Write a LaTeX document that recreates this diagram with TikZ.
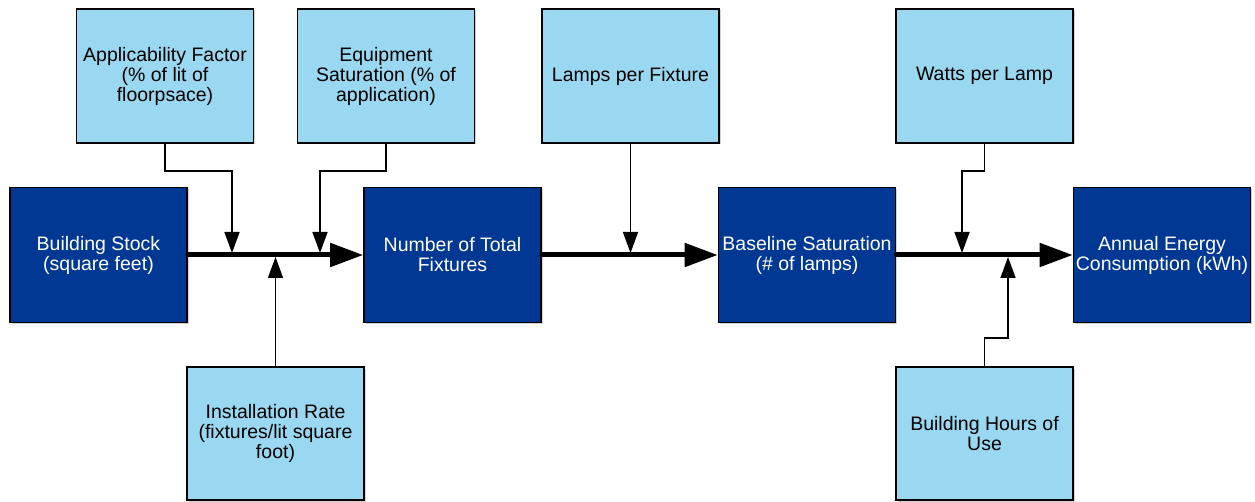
\documentclass[tikz,border=0pt]{standalone}
\usepackage{fontspec}
\setmainfont{Liberation Sans}
\usetikzlibrary{arrows.meta,shadows}
\definecolor{darkbox}{RGB}{0,56,147}
\definecolor{lightbox}{RGB}{153,216,240}
\tikzset{
  box/.style={draw=black, line width=1.6pt, rectangle, align=center,
    font=\fontsize{19.5}{20}\selectfont, inner sep=0pt,
    drop shadow={shadow xshift=1.5pt, shadow yshift=-1.5pt, fill=black!35, opacity=0.5}},
  darknode/.style={box, fill=darkbox, text=white, minimum width=177pt, minimum height=135pt},
  lightnode/.style={box, fill=lightbox, text=black, minimum width=177pt, minimum height=134pt},
  mainflow/.style={line width=5pt, line cap=round, -{Triangle[length=33pt,width=23pt]}},
  feed/.style={line width=1.5pt, -{Triangle[length=21pt,width=15pt]}}
}
\begin{document}
\begin{tikzpicture}[x=1pt,y=-1pt]
\useasboundingbox (0,0) rectangle (1255,502);
% dark boxes
\node[darknode] (BS)   at (98.5,255)  {Building Stock\\(square feet)};
\node[darknode] (NTF)  at (452.5,255) {Number of Total\\Fixtures};
\node[darknode] (BSat) at (807,255)   {Baseline Saturation\\(\# of lamps)};
\node[darknode] (AEC)  at (1162,255)  {Annual Energy\\Consumption (kWh)};
% top boxes
\node[lightnode] (AF)  at (165,76)    {Applicability Factor\\(\% of lit of\\floorpsace)};
\node[lightnode] (ES)  at (386,76)    {Equipment\\Saturation (\% of\\application)};
\node[lightnode] (LPF) at (630.5,76)  {Lamps per Fixture};
\node[lightnode] (WPL) at (984.5,76)  {Watts per Lamp};
% bottom boxes
\node[lightnode, minimum height=133pt] (IR)  at (275.5,433.5) {Installation Rate\\(fixtures/lit square\\foot)};
\node[lightnode, minimum height=133pt] (BHU) at (984.5,433.5) {Building Hours of\\Use};
% main flow
\draw[mainflow] (BS.east) -- (NTF.west);
\draw[mainflow] (NTF.east) -- (BSat.west);
\draw[mainflow] (BSat.east) -- (AEC.west);
% junction coordinates
\coordinate (b1) at (232,171);
\coordinate (j1) at (232,253);
\coordinate (b2) at (320,171);
\coordinate (j2) at (320,253);
\coordinate (j3) at (630.5,253);
\coordinate (b4) at (962,171);
\coordinate (j4) at (962,253);
\coordinate (j5) at (275.5,257);
\coordinate (b6) at (1008,338);
\coordinate (j6) at (1008,257);
% feeders
\draw[feed] (AF.south) |- (b1) -- (j1);
\draw[feed] (ES.south) |- (b2) -- (j2);
\draw[feed] (LPF.south) -- (j3);
\draw[feed] (WPL.south) |- (b4) -- (j4);
\draw[feed] (IR.north) -- (j5);
\draw[feed] (BHU.north) |- (b6) -- (j6);
\end{tikzpicture}
\end{document}
